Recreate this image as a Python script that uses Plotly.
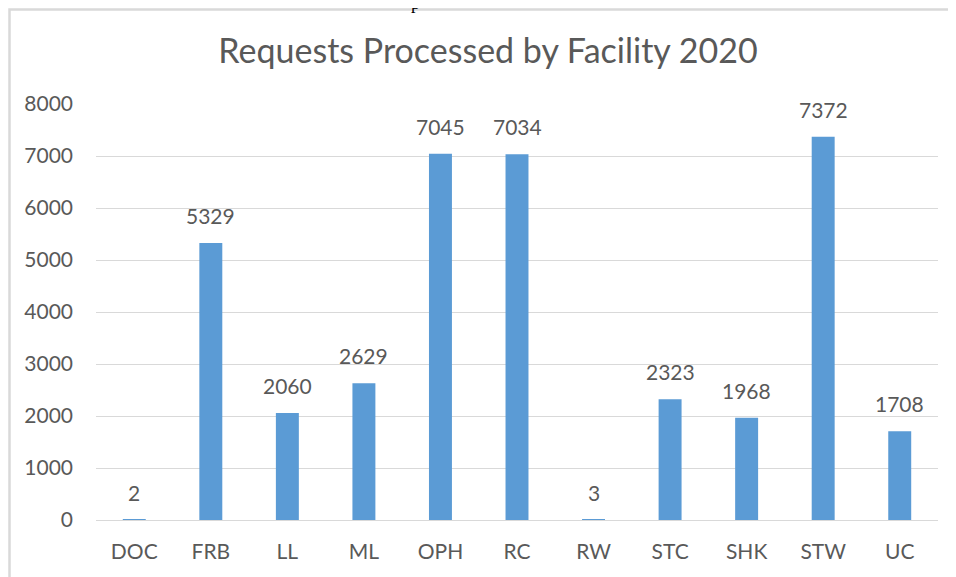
import plotly.graph_objects as go

categories = ["DOC", "FRB", "LL", "ML", "OPH", "RC", "RW", "STC", "SHK", "STW", "UC"]
requests = [2, 5329, 2060, 2629, 7045, 7034, 3, 2323, 1968, 7372, 1708]
y_ticks = [0, 1000, 2000, 3000, 4000, 5000, 6000, 7000, 8000]
title_text = "Requests Processed by Facility 2020"

# the page body has an 8px margin, so the figure is drawn 8px in from the window corner
OFF = 8
W, H = 956 - OFF, 577 - OFF
L, R, T, B = 96 - OFF, 18, 104 - OFF, 57
pw, ph = W - L - R, H - T - B

def px_x(x):
    return (x - OFF - L) / pw

def px_y(y):
    return 1 + (T - (y - OFF)) / ph

TXT = "#595959"
FONT = "Lato, 'Open Sans', sans-serif"

fig = go.Figure()
fig.add_trace(go.Bar(
    x=categories, y=requests,
    marker=dict(color="#5B9BD5", line=dict(width=0)),
    hoverinfo="x+y",
))

for c, v in zip(categories, requests):
    fig.add_annotation(
        x=c, y=v, xref="x", yref="y", text=str(v), showarrow=False,
        yanchor="bottom", yshift=13,
        font=dict(family=FONT, size=21, color=TXT),
    )

fig.add_annotation(
    x=px_x(415), y=px_y(14), xref="paper", yref="paper", text="p",
    showarrow=False, yanchor="bottom", xanchor="center", borderpad=0,
    font=dict(family="Liberation Serif, serif", size=18, color="#000000"),
)

fig.add_shape(
    type="rect", xref="paper", yref="paper",
    x0=px_x(9.5), x1=px_x(990), y0=px_y(620), y1=px_y(9.5),
    line=dict(color="#D9D9D9", width=2.5), fillcolor="rgba(0,0,0,0)",
    layer="below",
)

fig.update_layout(
    width=W, height=H,
    margin=dict(l=L, r=R, t=T, b=B),
    paper_bgcolor="white", plot_bgcolor="white",
    bargap=0.7,
    showlegend=False,
    title=dict(text=title_text, x=(488 - OFF) / W, xref="container", xanchor="center",
               y=1 - (51 - OFF) / H, yanchor="middle",
               font=dict(family=FONT, size=34, color=TXT)),
    font=dict(family=FONT, size=21, color=TXT),
)
fig.update_xaxes(
    showline=True, linecolor="#D9D9D9", linewidth=1.3,
    ticks="", showgrid=False,
    tickfont=dict(family=FONT, size=21, color=TXT),
    ticklabelstandoff=13,
)
fig.update_yaxes(
    range=[0, 8000], tickvals=y_ticks,
    showgrid=True, gridcolor="#D9D9D9", gridwidth=1,
    zeroline=False, showline=False, ticks="",
    tickfont=dict(family=FONT, size=21, color=TXT),
    ticklabelstandoff=22,
)

fig.write_html("out.html")
